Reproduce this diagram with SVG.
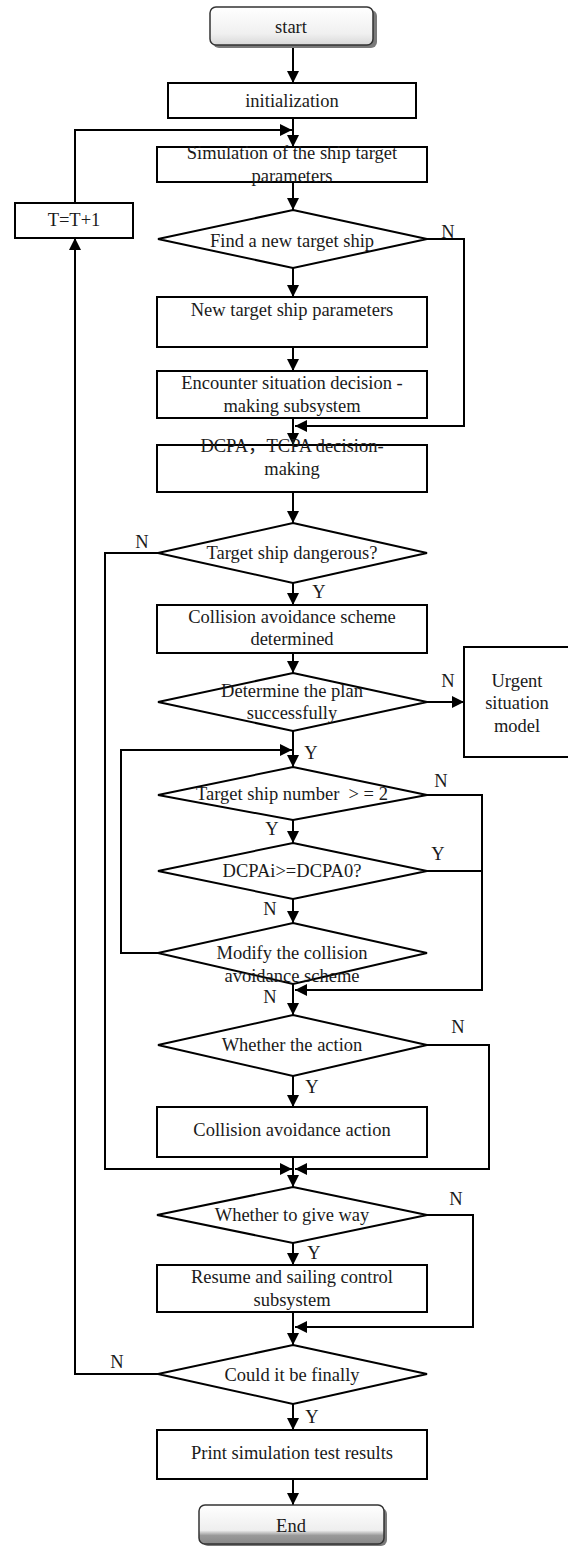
<svg xmlns="http://www.w3.org/2000/svg" width="568" height="1549" viewBox="0 0 568 1549">
<style>
.b{fill:#fff;stroke:#000;stroke-width:2}
.t{font-family:"Liberation Serif","Times New Roman",serif;font-size:18.5px;fill:#1a1a1a;text-anchor:middle;white-space:pre}
.c{fill:none;stroke:#000;stroke-width:2}
.sh{fill:#7a7a7a}
</style>
<defs>
<marker id="ah" viewBox="0 0 12 12" refX="12" refY="6" markerWidth="12" markerHeight="12" orient="auto" markerUnits="userSpaceOnUse"><path d="M0,0 L12,6 L0,12 z" fill="#000"/></marker>
<linearGradient id="gs" x1="0" y1="0" x2="0" y2="1"><stop offset="0" stop-color="#ffffff"/><stop offset="0.7" stop-color="#f0f0f0"/><stop offset="1" stop-color="#d8d8d8"/></linearGradient>
<linearGradient id="ge" x1="0" y1="0" x2="0" y2="1"><stop offset="0" stop-color="#ffffff"/><stop offset="0.65" stop-color="#eeeeee"/><stop offset="0.78" stop-color="#9a9a9a"/><stop offset="1" stop-color="#888888"/></linearGradient>
</defs>
<g id="connectors" class="c">
<path d="M293,45 V83" marker-end="url(#ah)"/>
<path d="M293,118 V147" marker-end="url(#ah)"/>
<path d="M75,203 V130 H292" marker-end="url(#ah)"/>
<path d="M293,182 V210" marker-end="url(#ah)"/>
<path d="M293,268 V297" marker-end="url(#ah)"/>
<path d="M293,347 V371" marker-end="url(#ah)"/>
<path d="M426,239 H464 V426 H295" marker-end="url(#ah)"/>
<path d="M293,418 V445" marker-end="url(#ah)"/>
<path d="M293,492 V523" marker-end="url(#ah)"/>
<path d="M293,583 V605" marker-end="url(#ah)"/>
<path d="M293,653 V673" marker-end="url(#ah)"/>
<path d="M427,702 H464" marker-end="url(#ah)"/>
<path d="M293,731 V767" marker-end="url(#ah)"/>
<path d="M158,953 H121 V750 H292" marker-end="url(#ah)"/>
<path d="M293,820 V843" marker-end="url(#ah)"/>
<path d="M427,795 H482 V990 H295" marker-end="url(#ah)"/>
<path d="M427,871 H482"/>
<path d="M293,899 V923" marker-end="url(#ah)"/>
<path d="M293,984 V1015" marker-end="url(#ah)"/>
<path d="M293,1076 V1107" marker-end="url(#ah)"/>
<path d="M158,553 H105 V1169 H292" marker-end="url(#ah)"/>
<path d="M427,1045 H489 V1169 H295" marker-end="url(#ah)"/>
<path d="M293,1157 V1187" marker-end="url(#ah)"/>
<path d="M293,1243 V1265" marker-end="url(#ah)"/>
<path d="M427,1215 H473 V1327 H295" marker-end="url(#ah)"/>
<path d="M293,1312 V1345" marker-end="url(#ah)"/>
<path d="M158,1374 H75 V238" marker-end="url(#ah)"/>
<path d="M293,1404 V1430" marker-end="url(#ah)"/>
<path d="M293,1479 V1505" marker-end="url(#ah)"/>
</g>
<g id="labels" class="t">
<text x="448" y="238">N</text>
<text x="142" y="548">N</text>
<text x="319" y="598">Y</text>
<text x="448" y="687">N</text>
<text x="311" y="759">Y</text>
<text x="441" y="787">N</text>
<text x="272" y="835">Y</text>
<text x="438" y="860">Y</text>
<text x="270" y="915">N</text>
<text x="270" y="1003">N</text>
<text x="458" y="1033">N</text>
<text x="312" y="1093">Y</text>
<text x="456" y="1205">N</text>
<text x="314" y="1259">Y</text>
<text x="117" y="1368">N</text>
<text x="312" y="1423">Y</text>
</g>
<g id="start">
<rect class="sh" x="213" y="10" width="164" height="38" rx="6"/>
<rect x="210" y="7" width="163" height="38" rx="6" fill="url(#gs)" stroke="#333" stroke-width="1.5"/>
<text class="t" x="291" y="33">start</text>
</g>
<g id="init"><rect class="b" x="168" y="83" width="248" height="35"/><text class="t" x="292" y="107">initialization</text></g>
<g id="sim"><rect class="b" x="157" y="147" width="270" height="35"/><text class="t" x="292" y="159">Simulation of the ship target</text><text class="t" x="292" y="182">parameters</text></g>
<g id="tt"><rect class="b" x="15" y="203" width="118" height="35"/><text class="t" x="74" y="226">T=T+1</text></g>
<g id="find"><polygon class="b" points="293,210 427,239 293,268 158,239"/><text class="t" x="292" y="247">Find a new target ship</text></g>
<g id="newp"><rect class="b" x="157" y="297" width="270" height="50"/><text class="t" x="292" y="316">New target ship parameters</text></g>
<g id="enc"><rect class="b" x="157" y="371" width="270" height="47"/><text class="t" x="292" y="389">Encounter situation decision -</text><text class="t" x="292" y="412">making subsystem</text></g>
<g id="dcpa"><rect class="b" x="157" y="445" width="270" height="47"/><text class="t" x="292" y="452" style="font-family:'Liberation Serif','Noto Sans CJK SC',serif">DCPA，TCPA decision-</text><text class="t" x="292" y="475">making</text></g>
<g id="danger"><polygon class="b" points="293,523 427,553 293,583 158,553"/><text class="t" x="292" y="559">Target ship dangerous?</text></g>
<g id="scheme"><rect class="b" x="157" y="605" width="270" height="48"/><text class="t" x="292" y="623">Collision avoidance scheme</text><text class="t" x="292" y="645">determined</text></g>
<g id="plan"><polygon class="b" points="293,673 427,702 293,731 158,702"/><text class="t" x="292" y="697">Determine the plan</text><text class="t" x="292" y="719">successfully</text></g>
<g id="urgent"><rect class="b" x="464" y="647" width="107" height="110"/><text class="t" x="517" y="687">Urgent</text><text class="t" x="517" y="709">situation</text><text class="t" x="517" y="732">model</text></g>
<g id="number"><polygon class="b" points="293,767 427,795 293,820 158,795"/><text class="t" x="292" y="800">Target ship number  &gt; = 2</text></g>
<g id="dcpai"><polygon class="b" points="293,843 427,871 293,899 158,871"/><text class="t" x="292" y="877">DCPAi&gt;=DCPA0?</text></g>
<g id="modify"><polygon class="b" points="293,923 427,953 293,984 158,953"/><text class="t" x="292" y="959">Modify the collision</text><text class="t" x="292" y="982">avoidance scheme</text></g>
<g id="action"><polygon class="b" points="293,1015 427,1045 293,1076 158,1045"/><text class="t" x="292" y="1051">Whether the action</text></g>
<g id="caction"><rect class="b" x="157" y="1107" width="270" height="50"/><text class="t" x="292" y="1136">Collision avoidance action</text></g>
<g id="giveway"><polygon class="b" points="293,1187 427,1215 293,1243 157,1215"/><text class="t" x="292" y="1221">Whether to give way</text></g>
<g id="resume"><rect class="b" x="157" y="1265" width="270" height="47"/><text class="t" x="292" y="1283">Resume and sailing control</text><text class="t" x="292" y="1306">subsystem</text></g>
<g id="could"><polygon class="b" points="293,1345 427,1374 293,1404 158,1374"/><text class="t" x="292" y="1381">Could it be finally</text></g>
<g id="print"><rect class="b" x="157" y="1430" width="270" height="49"/><text class="t" x="292" y="1459">Print simulation test results</text></g>
<g id="end">
<rect class="sh" x="202" y="1508" width="185" height="38" rx="6"/>
<rect x="199" y="1505" width="185" height="39" rx="6" fill="url(#ge)" stroke="#333" stroke-width="1.5"/>
<text class="t" x="291" y="1532">End</text>
</g>
</svg>
